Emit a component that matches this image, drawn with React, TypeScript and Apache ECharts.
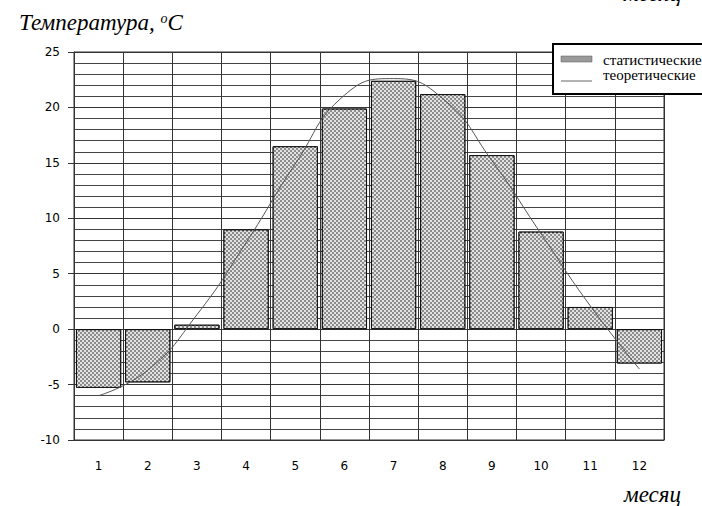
import React, { useEffect, useRef } from "react";
import * as echarts from "echarts";

const months = ["1", "2", "3", "4", "5", "6", "7", "8", "9", "10", "11", "12"];
const statistical = [-5.3, -4.8, 0.4, 9.0, 16.5, 19.9, 22.4, 21.2, 15.7, 8.8, 2.0, -3.1];
const theoretical = [-6.0, -3.7, 1.3, 7.8, 14.9, 21.1, 22.6, 20.8, 15.2, 8.6, 2.1, -3.6];
const legendNames = ["статистические", "теоретические"];

export default function App() {
  const ref = useRef<HTMLDivElement>(null);
  useEffect(() => {
    if (!ref.current) return;
    const chart = echarts.init(ref.current, null, { renderer: "svg" });
    const serif = "'Liberation Serif', 'Times New Roman', serif";
    const sans = "'DejaVu Sans', Arial, sans-serif";
    chart.setOption({
      animation: false,
      backgroundColor: "#fff",
      grid: { left: 74, top: 52, right: 38, bottom: 66, show: true, borderColor: "#333", borderWidth: 1 },
      xAxis: {
        type: "category",
        data: months,
        boundaryGap: true,
        axisLine: { show: true, onZero: false, lineStyle: { color: "#333" } },
        axisTick: { show: false },
        axisLabel: { color: "#000", fontFamily: sans, fontSize: 12, margin: 20 },
        splitLine: { show: true, lineStyle: { color: "#333", width: 1 } },
      },
      yAxis: {
        type: "value",
        min: -10,
        max: 25,
        interval: 5,
        axisLine: { show: true, lineStyle: { color: "#333" } },
        axisTick: { show: true, length: 6, lineStyle: { color: "#333" } },
        axisLabel: { color: "#000", fontFamily: sans, fontSize: 12, margin: 14 },
        splitLine: { show: true, lineStyle: { color: "#333", width: 1 } },
        minorTick: { show: false, splitNumber: 5 },
        minorSplitLine: { show: true, lineStyle: { color: "#444", width: 1 } },
      },
      series: [
        {
          name: legendNames[0],
          type: "bar",
          data: statistical,
          barCategoryGap: "8%",
          itemStyle: {
            color: "#8c8c8c",
            borderColor: "#111",
            borderWidth: 1,
            decal: {
              symbol: "rect",
              symbolSize: 1,
              color: "rgba(235,235,235,0.9)",
              dashArrayX: [[2, 2], [0, 2, 2, 0]],
              dashArrayY: [2, 0],
              rotation: 0,
            },
          },
          z: 2,
        },
        {
          name: legendNames[1],
          type: "line",
          data: theoretical,
          smooth: true,
          symbol: "none",
          lineStyle: { color: "#555", width: 1 },
          z: 3,
        },
      ],
      graphic: [
        {
          type: "text",
          left: 19,
          top: 11,
          style: {
            text: "{a|Температура, }{s|o}{a|C}",
            rich: {
              a: { fontFamily: serif, fontStyle: "italic", fontSize: 23, fill: "#000", verticalAlign: "bottom" },
              s: { fontFamily: serif, fontStyle: "italic", fontSize: 14, fill: "#000", padding: [0, 0, 9, 0], verticalAlign: "bottom" },
            },
          },
        },
        {
          type: "text",
          x: 624,
          y: 494,
          style: {
            text: "месяц",
            fontFamily: serif,
            fontStyle: "italic",
            fontSize: 23,
            fill: "#000",
            verticalAlign: "middle",
          },
        },
        {
          type: "text",
          x: 624,
          y: -7,
          style: {
            text: "месяц",
            fontFamily: serif,
            fontStyle: "italic",
            fontSize: 23,
            fill: "#000",
            verticalAlign: "middle",
          },
        },
        {
          type: "rect",
          shape: { x: 553, y: 44, width: 160, height: 50 },
          style: { fill: "#fff", stroke: "#000", lineWidth: 2 },
          z: 10,
        },
        {
          type: "rect",
          shape: { x: 561, y: 56, width: 31, height: 6 },
          style: { fill: "#9a9a9a", stroke: "#555", lineWidth: 0.5 },
          z: 11,
        },
        {
          type: "line",
          shape: { x1: 561, y1: 81, x2: 592, y2: 81 },
          style: { stroke: "#666", lineWidth: 1 },
          z: 11,
        },
        {
          type: "text",
          x: 603,
          y: 60,
          style: { text: legendNames[0], fontFamily: serif, fontSize: 15, fill: "#000", verticalAlign: "middle" },
          z: 11,
        },
        {
          type: "text",
          x: 603,
          y: 75,
          style: { text: legendNames[1], fontFamily: serif, fontSize: 15, fill: "#000", verticalAlign: "middle" },
          z: 11,
        },
      ],
    });
    return () => chart.dispose();
  }, []);
  return <div ref={ref} style={{ position: "fixed", left: 0, top: 0, width: 702, height: 506 }} />;
}
